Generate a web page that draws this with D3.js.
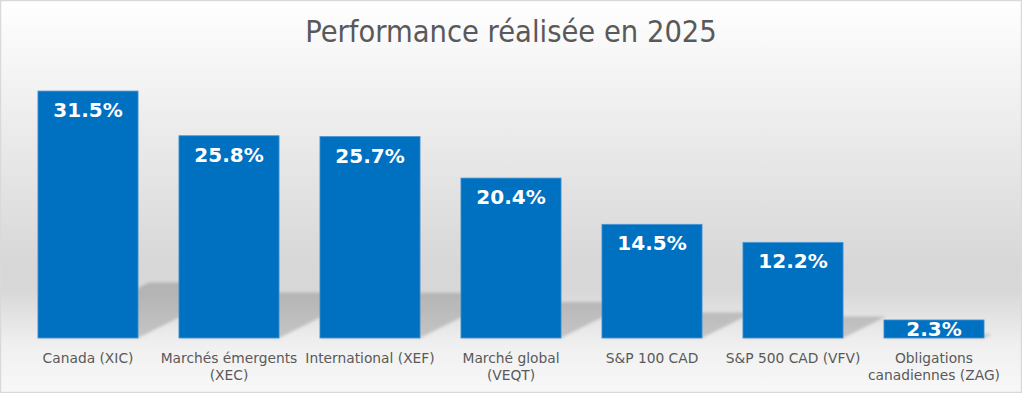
<!DOCTYPE html>
<html><head><meta charset="utf-8">
<script src="https://cdn.jsdelivr.net/npm/d3@7"></script>
<style>html,body{margin:0;padding:0;background:#fff;}svg{display:block;}</style>
</head><body>
<script>
const title = "Performance réalisée en 2025";
const categories = [
  ["Canada (XIC)"],
  ["Marchés émergents", "(XEC)"],
  ["International (XEF)"],
  ["Marché global", "(VEQT)"],
  ["S&P 100 CAD"],
  ["S&P 500 CAD (VFV)"],
  ["Obligations", "canadiennes (ZAG)"]
];
const values = [31.5, 25.8, 25.7, 20.4, 14.5, 12.2, 2.3];
const yDomain = [0, 35];

const W = 1022, H = 393;
const svg = d3.select("body").append("svg").attr("width", W).attr("height", H);
const defs = svg.append("defs");
const bg = defs.append("linearGradient").attr("id", "bg").attr("x1", 0).attr("y1", 0).attr("x2", 0).attr("y2", 1);
[[0, "#ffffff"], [0.22, "#f2f2f2"], [0.68, "#d7d7d7"], [0.74, "#d8d8d8"], [0.88, "#f0f0f0"], [1, "#f8f8f8"]]
  .forEach(([o, c]) => bg.append("stop").attr("offset", o).attr("stop-color", c));
const blur = defs.append("filter").attr("id", "blur").attr("x", "-20%").attr("y", "-20%").attr("width", "140%").attr("height", "140%");
blur.append("feGaussianBlur").attr("stdDeviation", 1.6);

svg.append("rect").attr("x", 0.5).attr("y", 0.5).attr("width", W - 1).attr("height", H - 1)
  .attr("fill", "url(#bg)").attr("stroke", "#d9d9d9").attr("stroke-width", 1.5);

svg.append("text").attr("x", 511).attr("y", 42).attr("text-anchor", "middle")
  .attr("font-family", "'DejaVu Sans Condensed', 'DejaVu Sans', sans-serif")
  .attr("font-stretch", "condensed")
  .attr("font-size", 30.5).attr("fill", "#595959").text(title);

const x = d3.scaleBand().domain(d3.range(values.length)).range([17.5, 1004.5]).paddingInner(0.29).paddingOuter(0.145);
const y = d3.scaleLinear().domain(yDomain).range([338, 63.6]);
const base = y(0);

// perspective shadows
const sh = svg.append("g").attr("filter", "url(#blur)");
values.forEach((v, i) => {
  const x0 = x(i), x1 = x(i) + x.bandwidth();
  const h = base - y(v);
  const s = 0.225 * h, dx = 2 * s;
  sh.append("polygon")
    .attr("points", [[x0, base], [x1, base], [x1 + dx, base - s], [x0 + dx, base - s]].map(p => p.join(",")).join(" "))
    .attr("fill", "#000").attr("fill-opacity", 0.17);
});

// bars
svg.append("g").selectAll("rect").data(values).join("rect")
  .attr("x", (d, i) => x(i)).attr("y", d => y(d))
  .attr("width", x.bandwidth()).attr("height", d => base - y(d))
  .attr("fill", "#0070c0").attr("stroke", "#4b95d3").attr("stroke-width", 0.8);

// value labels
svg.append("g").selectAll("text").data(values).join("text")
  .attr("x", (d, i) => x(i) + x.bandwidth() / 2)
  .attr("y", d => Math.min(y(d) + 26, base - 2))
  .attr("text-anchor", "middle")
  .attr("font-family", "'DejaVu Sans', Verdana, sans-serif").attr("font-weight", "bold")
  .attr("font-size", 20).attr("fill", "#ffffff")
  .text(d => d.toFixed(1) + "%");

// category labels
const lab = svg.append("g").selectAll("text").data(categories).join("text")
  .attr("x", (d, i) => x(i) + x.bandwidth() / 2)
  .attr("y", 363).attr("text-anchor", "middle")
  .attr("font-family", "'DejaVu Sans', Verdana, sans-serif")
  .attr("font-size", 13.8).attr("fill", "#595959");
lab.each(function(d, i) {
  const t = d3.select(this);
  d.forEach((line, j) => t.append("tspan").attr("x", x(i) + x.bandwidth() / 2).attr("dy", j === 0 ? 0 : 17).text(line));
});
</script>
</body></html>
